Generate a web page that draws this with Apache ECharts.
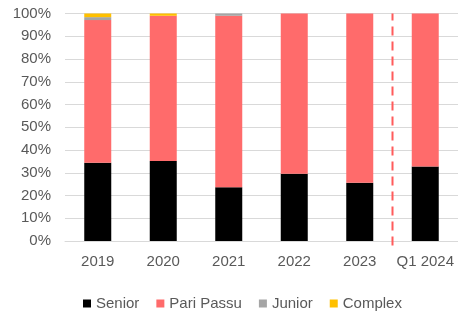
<!DOCTYPE html>
<html>
<head>
<meta charset="utf-8">
<style>
  html, body { margin: 0; padding: 0; background: #fff; }
  #main { width: 458px; height: 313px; }
</style>
<script src="https://cdn.jsdelivr.net/npm/echarts@6/dist/echarts.min.js"></script>
</head>
<body>
<div id="main"></div>
<script>
// categories and shares (%)
const categories = ['2019', '2020', '2021', '2022', '2023', 'Q1 2024'];
const senior = [34.4, 35.2, 23.6, 29.6, 25.6, 32.7];
const pariPassu = [62.7, 63.8, 75.4, 70.4, 74.4, 67.3];
const junior = [1.3, 0, 1.0, 0, 0, 0];
const complex = [1.6, 1.0, 0, 0, 0, 0];
// dashed separator between 2023 and Q1 2024 (category index)
const dividerAt = 4.5;

const myChart = echarts.init(document.getElementById('main'));

const txt = { color: '#595959', fontSize: 15, fontFamily: 'Liberation Sans, Arial, sans-serif' };

function barSeries(name, data, color) {
  return {
    name: name,
    type: 'bar',
    stack: 'total',
    data: data,
    barWidth: 27,
    itemStyle: { color: color },
    emphasis: { disabled: true }
  };
}

myChart.setOption({
  animation: false,
  grid: { left: 65, right: 0, top: 13.5, bottom: 72, containLabel: false },
  legend: {
    top: 296,
    left: 83,
    padding: 0,
    itemWidth: 8,
    itemHeight: 8,
    itemGap: 17,
    icon: 'rect',
    textStyle: txt,
    data: ['Senior', 'Pari Passu', 'Junior', 'Complex']
  },
  xAxis: [
    {
      type: 'category',
      data: categories,
      axisLine: { show: true, lineStyle: { color: '#d9d9d9', width: 1 } },
      axisTick: { show: false },
      axisLabel: Object.assign({ margin: 13, interval: 0 }, txt)
    },
    {
      type: 'value',
      min: -0.5,
      max: categories.length - 0.5,
      show: false
    }
  ],
  yAxis: {
    type: 'value',
    min: 0,
    max: 100,
    interval: 10,
    axisLine: { show: false },
    axisTick: { show: false },
    axisLabel: Object.assign({ formatter: '{value}%', margin: 14 }, txt),
    splitLine: { lineStyle: { color: '#d9d9d9', width: 1 } }
  },
  series: [
    barSeries('Senior', senior, '#000000'),
    barSeries('Pari Passu', pariPassu, '#FF6B6B'),
    barSeries('Junior', junior, '#A5A5A5'),
    barSeries('Complex', complex, '#FFC000'),
    {
      type: 'line',
      xAxisIndex: 1,
      data: [[dividerAt, -2], [dividerAt, 100]],
      symbol: 'none',
      clip: false,
      silent: true,
      lineStyle: { color: '#FF5B5B', width: 2, type: [9, 6] }
    }
  ]
});
</script>
</body>
</html>
